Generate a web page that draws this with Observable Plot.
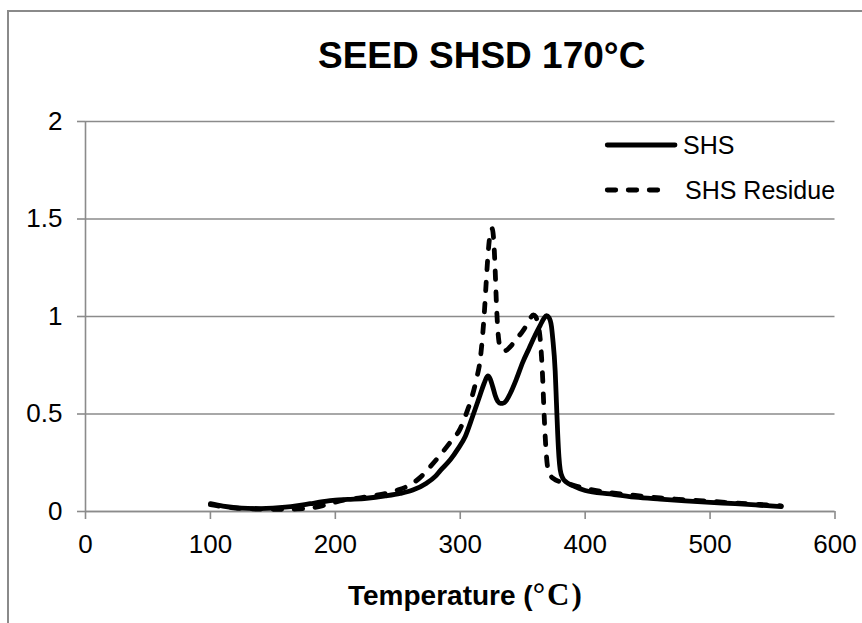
<!DOCTYPE html>
<html>
<head>
<meta charset="utf-8">
<script src="https://cdn.jsdelivr.net/npm/d3@7"></script>
<script src="https://cdn.jsdelivr.net/npm/@observablehq/plot@0.6"></script>
<style>
  body { margin: 0; background: #fff; }
  #wrap { position: relative; width: 862px; height: 623px; overflow: hidden; font-family: "Liberation Sans", Arial, sans-serif; color: #000; }
  #border { position: absolute; left: 7px; top: 10px; width: 900px; height: 700px; border-left: 2px solid #8a8a8a; border-top: 2px solid #8a8a8a; }
  #title { position: absolute; left: 318px; top: 37px; font-size: 37px; line-height: 37px; font-weight: bold; white-space: nowrap; }
  #chart { position: absolute; left: 0; top: 90px; }
  #xlabel { position: absolute; left: 348px; top: 581px; font-size: 28px; line-height: 28px; font-weight: bold; white-space: nowrap; }
  #xlabel .unit { font-family: "Liberation Serif", "Times New Roman", serif; font-size: 31px; letter-spacing: 2px; }
  .lg { position: absolute; font-size: 25px; line-height: 25px; white-space: nowrap; }
  .sw { position: absolute; }
</style>
</head>
<body>
<div id="wrap">
  <div id="border"></div>
  <div id="title"></div>
  <div id="chart"></div>
  <div id="xlabel"></div>
  <svg class="sw" id="sw1" style="left:600px;top:140px" width="84" height="10"></svg>
  <div class="lg" id="lg1" style="left:683px;top:133px"></div>
  <svg class="sw" id="sw2" style="left:600px;top:185px" width="84" height="10"></svg>
  <div class="lg" id="lg2" style="left:685px;top:178px"></div>
</div>
<script>
// ---- data ----
const titleText = "SEED SHSD 170°C";
const xLabelMain = "Temperature (";
const xLabelUnit = "°C)";
const seriesNames = ["SHS", "SHS Residue"];

const xTicks = [0, 100, 200, 300, 400, 500, 600];
const yTicks = [0, 0.5, 1, 1.5, 2];
const yTickLabels = ["0", "0.5", "1", "1.5", "2"];

const shsTemp = [100,110,120,130,140,150,160,170,180,190,200,210,225,240,252,262,273,280,284,292,298,304,310,316,319,322,324,326,328,330,332,334,337,340,345,350,355,360,364,367,369,371,373,374,376,377,378,379,380,382,385,390,400,420,440,460,480,500,520,540,557];
const shsVal  = [0.04,0.028,0.02,0.016,0.015,0.017,0.022,0.03,0.04,0.05,0.058,0.062,0.068,0.08,0.093,0.11,0.145,0.18,0.21,0.265,0.32,0.385,0.49,0.6,0.655,0.695,0.68,0.64,0.595,0.565,0.555,0.555,0.57,0.605,0.68,0.765,0.835,0.905,0.955,0.99,1.005,0.995,0.95,0.89,0.72,0.56,0.4,0.28,0.215,0.172,0.15,0.133,0.108,0.09,0.074,0.064,0.055,0.047,0.04,0.032,0.025];

const resTemp = [100,110,120,130,140,150,160,170,180,190,200,210,220,230,240,250,260,268,276,284,292,300,305,309,313,316,318,319.5,321,322.5,324,325.5,327,328,329,330,331,333,336,340,345,350,353,356,358.5,360.5,362,364,365,366,367,368,369,370,372,375,380,390,400,420,440,460,480,500,520,540,557];
const resVal  = [0.035,0.025,0.018,0.014,0.012,0.011,0.011,0.013,0.018,0.03,0.048,0.062,0.07,0.08,0.092,0.11,0.137,0.175,0.23,0.29,0.355,0.425,0.505,0.58,0.68,0.78,0.91,1.04,1.2,1.34,1.425,1.45,1.37,1.23,1.06,0.94,0.87,0.83,0.825,0.845,0.885,0.925,0.955,0.99,1.008,0.998,0.965,0.885,0.8,0.68,0.52,0.385,0.285,0.225,0.188,0.167,0.152,0.135,0.118,0.097,0.082,0.07,0.06,0.052,0.044,0.036,0.029];

// ---- build ----
const shsData = shsTemp.map((t, i) => ({t, v: shsVal[i], s: seriesNames[0]}));
const resData = resTemp.map((t, i) => ({t, v: resVal[i], s: seriesNames[1]}));

const grey = "#8b8b8b";
const dash = "8.5 12.5";
const lw = 4.8;

const plot = Plot.plot({
  width: 862,
  height: 478,
  marginLeft: 85,
  marginRight: 27.5,
  marginTop: 31,
  marginBottom: 57,
  style: {fontFamily: "'Liberation Sans', Arial, sans-serif", fontSize: "26px", color: "#000", background: "transparent", overflow: "visible"},
  x: {domain: [0, 600]},
  y: {domain: [0, 2]},
  marks: [
    Plot.gridY(yTicks, {stroke: grey, strokeOpacity: 1, strokeWidth: 1.6}),
    Plot.ruleX([0], {stroke: grey, strokeWidth: 1.6}),
    Plot.ruleY([0], {stroke: grey, strokeWidth: 1.6}),
    Plot.axisX(xTicks, {tickSize: 8, tickPadding: 15, stroke: grey, strokeWidth: 1.6, fill: "#000", label: null, tickFormat: d => String(d)}),
    Plot.axisY(yTicks, {tickSize: 8, tickPadding: 15, stroke: grey, strokeWidth: 1.6, fill: "#000", label: null, tickFormat: d => yTickLabels[yTicks.indexOf(d)]}),
    Plot.line(shsData, {x: "t", y: "v", curve: "monotone-x", stroke: "#000", strokeWidth: lw, strokeLinejoin: "round", strokeLinecap: "round"}),
    Plot.line(resData, {x: "t", y: "v", curve: "monotone-x", stroke: "#000", strokeWidth: lw, strokeLinejoin: "round", strokeLinecap: "round", strokeDasharray: dash})
  ]
});
document.getElementById("chart").appendChild(plot);

document.getElementById("title").textContent = titleText;
const xl = document.getElementById("xlabel");
xl.appendChild(document.createTextNode(xLabelMain));
const u = document.createElement("span"); u.className = "unit"; u.textContent = xLabelUnit; xl.appendChild(u);

document.getElementById("lg1").textContent = seriesNames[0];
document.getElementById("lg2").textContent = seriesNames[1];

const ns = "http://www.w3.org/2000/svg";
function swatch(id, dashed, x2) {
  const s = document.getElementById(id);
  const l = document.createElementNS(ns, "line");
  l.setAttribute("x1", 7.25); l.setAttribute("x2", x2);
  l.setAttribute("y1", 5); l.setAttribute("y2", 5);
  l.setAttribute("stroke", "#000"); l.setAttribute("stroke-width", lw);
  l.setAttribute("stroke-linecap", "round");
  if (dashed) l.setAttribute("stroke-dasharray", dash);
  s.appendChild(l);
}
swatch("sw1", false, 75);
swatch("sw2", true, 66);
</script>
</body>
</html>
